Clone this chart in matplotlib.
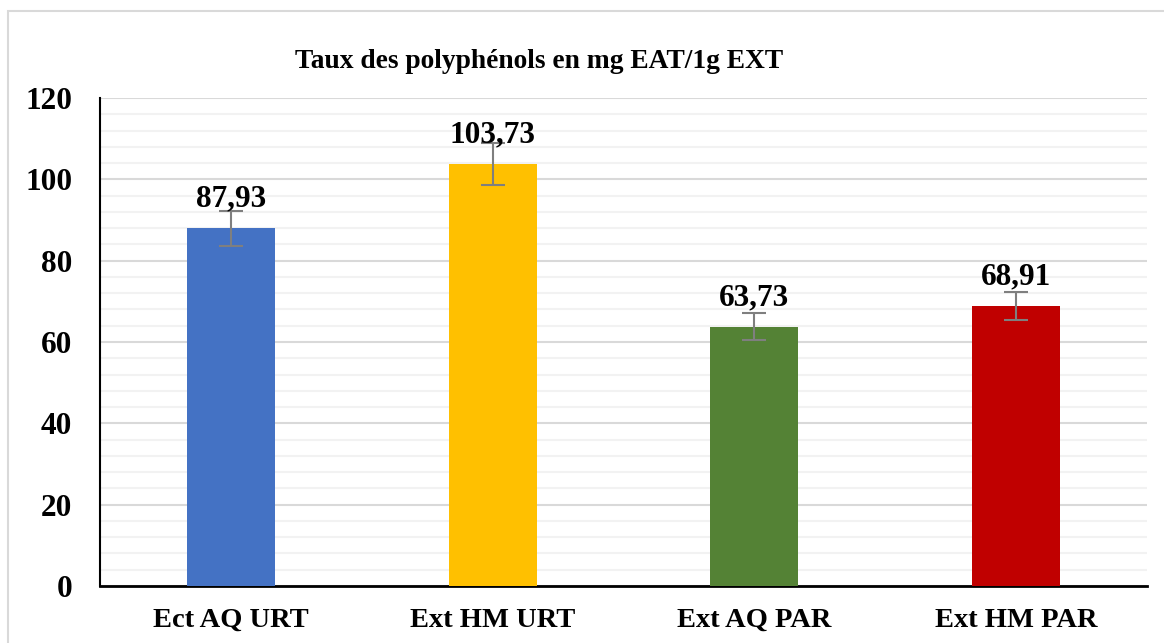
import numpy as np
import matplotlib.pyplot as plt
from matplotlib.patches import Rectangle

categories = ["Ect AQ URT", "Ext HM URT", "Ext AQ PAR", "Ext HM PAR"]
values = [87.93, 103.73, 63.73, 68.91]
errors = [4.4, 5.1, 3.3, 3.5]
labels = ["87,93", "103,73", "63,73", "68,91"]
colors = ["#4472C4", "#FFC000", "#548235", "#C00000"]

plt.rcParams['font.family'] = ['Liberation Serif', 'DejaVu Serif']
plt.rcParams['font.weight'] = 'bold'

fig = plt.figure(figsize=(11.64, 6.43), dpi=100)
# light frame around the chart area
fig.patches.append(Rectangle((8 / 1164, -0.01), 1.02, (643 - 11) / 643 + 0.01,
                             transform=fig.transFigure, fill=False,
                             edgecolor="#D9D9D9", linewidth=1.5))

ax = fig.add_axes([100 / 1164, 57 / 643, 1047 / 1164, 488 / 643])

x = np.arange(len(categories))
ax.bar(x, values, width=0.336, color=colors, zorder=3)
ax.errorbar(x, values, yerr=errors, fmt="none", ecolor="#7F7F7F",
            elinewidth=1.5, capsize=8.5, capthick=1.5, zorder=4)

for xi, v, lab in zip(x, values, labels):
    ax.text(xi, v + 3.6, lab, ha="center", va="bottom", fontsize=22.5,
            fontweight="bold", zorder=5)

ax.set_xlim(-0.5, 3.5)
ax.set_ylim(0, 120)
ax.set_yticks(np.arange(0, 121, 20))
ax.set_yticks(np.arange(0, 121, 4), minor=True)
ax.grid(axis="y", which="major", color="#D9D9D9", linewidth=1.5, zorder=0)
ax.grid(axis="y", which="minor", color="#F2F2F2", linewidth=1.5, zorder=0)
ax.set_xticks(x)
ax.set_xticklabels(categories, fontsize=20.5, fontweight="bold")
ax.tick_params(axis="y", labelsize=22.5, length=0, pad=20, which="both")
ax.tick_params(axis="x", length=0, pad=16)
for lab in ax.get_yticklabels():
    lab.set_fontweight("bold")

for s in ["top", "right"]:
    ax.spines[s].set_visible(False)
ax.spines["left"].set_linewidth(1.5)
ax.spines["bottom"].set_linewidth(2)

fig.text(539 / 1164, 1 - 61 / 643, "Taux des polyphénols en mg EAT/1g EXT",
         ha="center", va="center", fontsize=19.8, fontweight="bold")

fig.savefig("out.png", dpi=100)
